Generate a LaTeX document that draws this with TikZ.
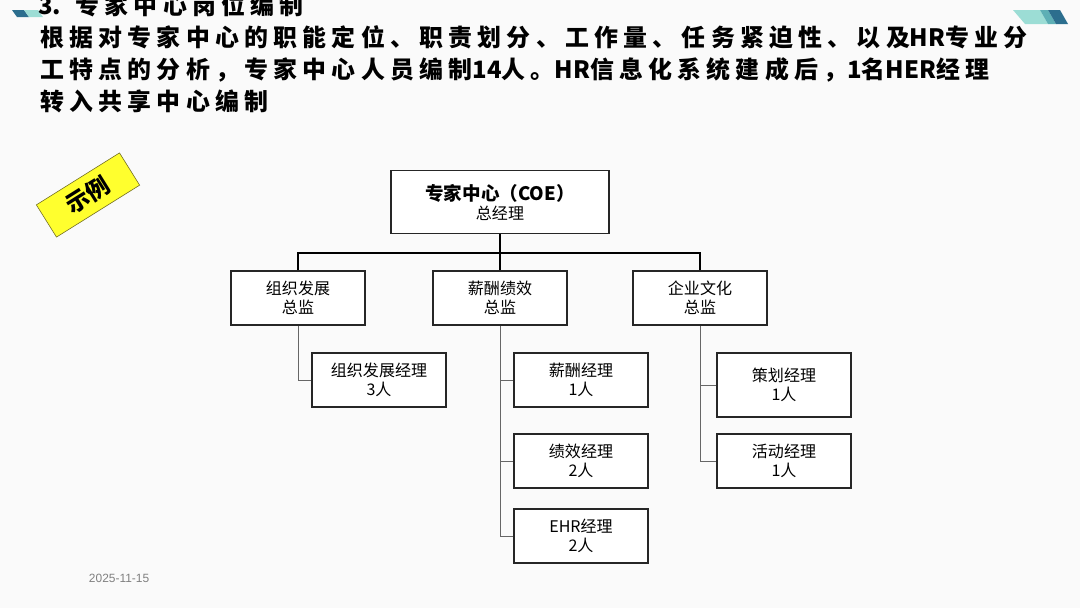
\documentclass[tikz,border=0pt]{standalone}
\usepackage{fontspec}
\setmainfont{Noto Sans CJK SC}
\newfontfamily\titlefont[LetterSpace=22]{Noto Sans CJK SC}
\newfontfamily\titleplain{Noto Sans CJK SC}
\newfontfamily\datefont{Liberation Sans}
\newcommand{\lat}[1]{{\titleplain\bfseries #1}}
\definecolor{bgcol}{HTML}{FAFAFA}
\definecolor{tealdark}{HTML}{2C6E8E}
\definecolor{tealmid}{HTML}{5DAFB5}
\definecolor{teallight}{HTML}{9CDDD5}
\definecolor{demoyellow}{HTML}{FFFF2E}
\tikzset{
    orgbox/.style={draw=black!85, line width=1.1pt, fill=white, minimum width=3.35cm,
        minimum height=1.35cm, inner sep=0pt, align=center,
        font=\fontsize{11.4}{13.5}\selectfont},
    mainline/.style={line width=1.8pt, black},
    subline/.style={line width=0.7pt, black!60},
    titleline/.style={anchor=west, inner sep=0pt, font=\titlefont\bfseries\fontsize{17}{20}\selectfont}
}
\begin{document}
\begin{tikzpicture}[x=0.025cm, y=-0.025cm]
    \fill[bgcol] (0,0) rectangle (1080,608);
    \useasboundingbox (0,0) rectangle (1080,608);
    \clip (0,0) rectangle (1080,608);
    % corner marks
    \fill[tealdark] (12,10)--(24,10)--(29,17)--(17,17)--cycle;
    \fill[teallight] (24,10)--(38,10)--(43,17)--(29,17)--cycle;
    \fill[teallight] (1013,10)--(1040,10)--(1048,24)--(1025,24)--cycle;
    \fill[tealmid] (1040,10)--(1048,10)--(1056,24)--(1048,24)--cycle;
    \fill[tealdark] (1048,10)--(1060,10)--(1068,24)--(1056,24)--cycle;
    % heading
    \node[titleline] (head) at (38,5) {\lat{3.} 专家中心岗位编制};
    \node[titleline] (lineA) at (40,37) {根据对专家中心的职能定位、职责划分、工作量、任务紧迫性、以及\lat{HR}专业分};
    \node[titleline] (lineB) at (40,70) {工特点的分析，专家中心人员编制\lat{14}人。\lat{HR}信息化系统建成后，\lat{1}名\lat{HER}经理};
    \node[titleline] (lineC) at (40,101) {转入共享中心编制};
    % sample tag
    \node[draw=olive!70!black, fill=demoyellow, rotate=32, minimum width=2.45cm, minimum height=0.95cm,
        font=\bfseries\fontsize{16.5}{18}\selectfont] (demo) at (88,195) {示例};
    % boxes
    \node[orgbox, minimum width=5.45cm, minimum height=1.575cm] (coe) at (500,202)
        {{\bfseries\fontsize{13.2}{15.5}\selectfont 专家中心（COE）}\\总经理};
    \node[orgbox] (zz) at (298,298) {组织发展\\总监};
    \node[orgbox] (xc) at (500,298) {薪酬绩效\\总监};
    \node[orgbox] (qy) at (700,298) {企业文化\\总监};
    \node[orgbox] (zzjl) at (379,380) {组织发展经理\\3人};
    \node[orgbox] (xcjl) at (581,380) {薪酬经理\\1人};
    \node[orgbox] (jxjl) at (581,461) {绩效经理\\2人};
    \node[orgbox] (ehrjl) at (581,536) {EHR经理\\2人};
    \node[orgbox, minimum height=1.6cm] (chjl) at (784,385) {策划经理\\1人};
    \node[orgbox] (hdjl) at (784,461) {活动经理\\1人};
    % connectors
    \coordinate (bar) at (500,253);
    \draw[mainline] (coe.south)--(xc.north);
    \draw[mainline] (zz.north)|-(bar);
    \draw[mainline] (qy.north)|-(bar);
    \draw[subline] (zz.south)|-(zzjl.west);
    \draw[subline] (xc.south)|-(xcjl.west);
    \draw[subline] (xc.south)|-(jxjl.west);
    \draw[subline] (xc.south)|-(ehrjl.west);
    \draw[subline] (qy.south)|-(chjl.west);
    \draw[subline] (qy.south)|-(hdjl.west);
    \node[anchor=west, text=gray, font=\datefont\fontsize{8.5}{10}\selectfont] (date) at (84,578) {2025-11-15};
\end{tikzpicture}
\end{document}
